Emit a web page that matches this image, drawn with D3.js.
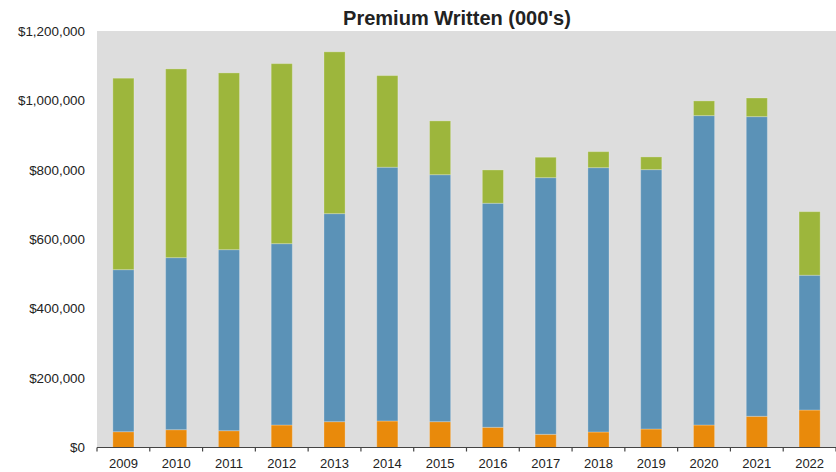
<!DOCTYPE html>
<html>
<head>
<meta charset="utf-8">
<script src="https://cdn.jsdelivr.net/npm/d3@7"></script>
<style>
html,body{margin:0;padding:0;background:#fff;}
svg{display:block;}
text{font-family:"Liberation Sans",Arial,sans-serif;fill:#222;}
</style>
</head>
<body>
<svg id="chart" width="836" height="472"></svg>
<script>
const years = ["2009","2010","2011","2012","2013","2014","2015","2016","2017","2018","2019","2020","2021","2022"];
const orangeSeries = [45500, 51300, 48400, 64800, 74400, 76400, 74400, 58200, 38000, 44700, 53300, 64800, 89900, 108000];
const blueSeries = [466900, 495700, 521600, 522500, 599400, 731100, 711600, 645500, 739500, 761600, 747300, 891400, 863400, 388300];
const greenSeries = [551600, 543800, 509300, 518700, 466200, 264000, 155000, 96000, 58800, 46100, 36600, 42400, 53700, 183200];
const yTicks = [0, 200000, 400000, 600000, 800000, 1000000, 1200000];
const title = "Premium Written (000's)";

const keys = ["orange","blue","green"];
const colors = {orange:"#e98a0b", blue:"#5b92b7", green:"#9db63c"};

const data = years.map((yr,i)=>({year:yr, orange:orangeSeries[i], blue:blueSeries[i], green:greenSeries[i]}));

const svg = d3.select("#chart");
const pLeft = 97, pRight = 836, pTop = 31, pBottom = 447.5;

const x = d3.scaleBand().domain(years).range([pLeft,pRight]).paddingInner(0.6).paddingOuter(0.3);
const y = d3.scaleLinear().domain([0,1200000]).range([pBottom,pTop]);

svg.append("rect").attr("x",pLeft).attr("y",pTop).attr("width",pRight-pLeft).attr("height",pBottom-pTop).attr("fill","#dddddd");

const stack = d3.stack().keys(keys)(data);

svg.append("g").selectAll("g").data(stack).join("g")
  .attr("fill", d=>colors[d.key])
  .selectAll("rect").data(d=>d).join("rect")
  .attr("x", d=>x(d.data.year))
  .attr("width", x.bandwidth())
  .attr("y", d=>y(d[1]))
  .attr("height", d=>y(d[0])-y(d[1]))
  .attr("stroke","rgba(255,255,255,0.25)")
  .attr("stroke-width",1);

// y axis labels
const fmt = v => "$" + d3.format(",")(v);
svg.append("g").selectAll("text").data(yTicks).join("text")
  .attr("x", 85).attr("y", d=>y(d)).attr("dy","0.35em")
  .attr("text-anchor","end").attr("font-size","13.4px")
  .text(fmt);

// x axis
const band = d3.scaleBand().domain(years).range([pLeft,pRight]);
const xAxis = d3.axisBottom(band).tickSize(0).tickPadding(0);
const gx = svg.append("g").attr("transform",`translate(0,${pBottom})`).call(xAxis);
gx.select(".domain").remove();
gx.selectAll(".tick text").attr("font-size","13px").attr("dy",null).attr("y",20.5).style("font-family",'"Liberation Sans",Arial,sans-serif').attr("fill","#222");
svg.append("line").attr("x1",pLeft).attr("x2",pRight).attr("y1",pBottom).attr("y2",pBottom).attr("stroke","#444").attr("stroke-width",1.2);
const bounds = years.map(yv=>band(yv)).concat([pRight]);
svg.append("g").selectAll("line").data(bounds).join("line")
  .attr("x1",d=>d).attr("x2",d=>d).attr("y1",pBottom).attr("y2",pBottom+4)
  .attr("stroke","#444").attr("stroke-width",1.2);

svg.append("text").attr("x",457).attr("y",25).attr("text-anchor","middle")
  .attr("font-size","20px").attr("font-weight","bold").attr("fill","#111").text(title);
</script>
</body>
</html>
